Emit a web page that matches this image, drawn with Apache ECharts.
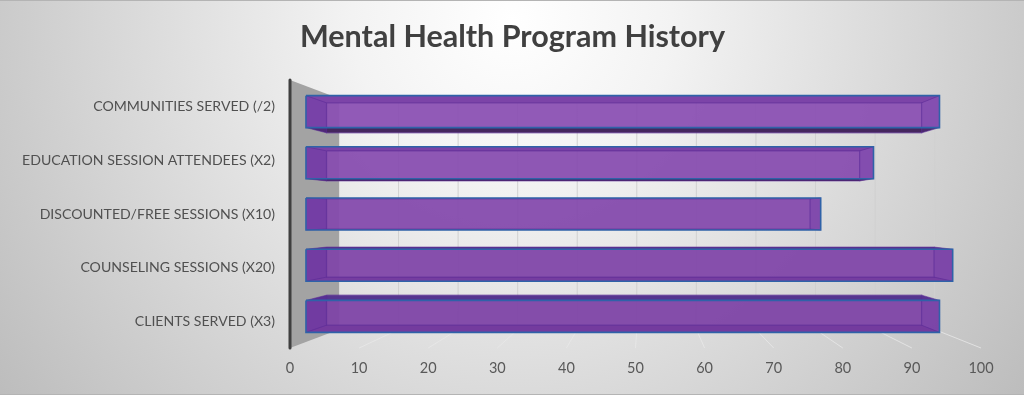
<!DOCTYPE html>
<html><head><meta charset="utf-8">
<style>html,body{margin:0;padding:0;background:#fff}#c{width:1024px;height:395px}</style>
<script src="https://cdn.jsdelivr.net/npm/echarts@6/dist/echarts.min.js"></script>
</head><body><div id="c"></div>
<script>
const categories = ["CLIENTS SERVED (X3)","COUNSELING SESSIONS (X20)","DISCOUNTED/FREE SESSIONS (X10)","EDUCATION SESSION ATTENDEES (X2)","COMMUNITIES SERVED (/2)"];
const values = [96,98,78,86,96];
const ticks = [0,10,20,30,40,50,60,70,80,90,100];

const VP = [645,214], S_FRONT = 0.955, S_BACK = 0.897, S_WALL = 0.862;
const proj = (p,s)=>[VP[0]+(p[0]-VP[0])*s, VP[1]+(p[1]-VP[1])*s];
const chart = echarts.init(document.getElementById('c'));

function axisEnds(api, v){
  const band = api.size([0,1])[1];
  const low = api.coord([v,0]), high = api.coord([v,categories.length-1]);
  return [[low[0],low[1]+band/2],[high[0],high[1]-band/2]];
}
function renderBar(params, api){
  const i = api.value(0), v = api.value(1);
  const a = api.coord([0,i]), b = api.coord([v,i]);
  const h = api.size([0,1])[1]*0.3125;
  const pts = s=>({
    tl:proj([a[0],a[1]-h],s), tr:proj([b[0],a[1]-h],s),
    br:proj([b[0],a[1]+h],s), bl:proj([a[0],a[1]+h],s)});
  const f = pts(S_FRONT), k = pts(S_BACK);
  const poly=(ps,fill)=>({type:'polygon',shape:{points:ps},style:{fill:fill}});
  const line=(ps,stroke,w)=>({type:'polyline',shape:{points:ps},style:{fill:null,stroke:stroke,lineWidth:w}});
  const above = a[1] < VP[1];
  const edge='rgba(88,40,150,0.55)', blue='#2f62a8';
  const t=(a[1]-107)/214;
  const R=Math.round(139-13*t), G=Math.round(81-13*t), B=Math.round(179-13*t);
  const hor = above
    ? poly([f.bl,f.br,k.br,k.bl],'#45265e')
    : poly([f.tl,f.tr,k.tr,k.tl],'#55358f');
  const farHor = above
    ? poly([f.tl,f.tr,k.tr,k.tl],`rgb(${R-16},${G-16},${B-10})`)
    : poly([f.bl,f.br,k.br,k.bl],`rgb(${R-16},${G-16},${B-10})`);
  return {type:'group',children:[
    hor, farHor,
    poly([f.tl,f.tr,f.br,f.bl],`rgba(${R},${G},${B},0.95)`),
    poly([f.tl,k.tl,k.bl,f.bl],'rgba(92,40,155,0.42)'),
    poly([f.tr,k.tr,k.br,f.br],'rgba(100,52,165,0.22)'),
    above ? poly([f.tl,f.tr,k.tr,k.tl],'rgba(90,40,140,0.28)') : poly([f.bl,f.br,k.br,k.bl],'rgba(90,40,140,0.28)'),
    line([k.tl,k.tr,k.br,k.bl,k.tl],edge,1.2),
    line([f.tl,k.tl],edge,1), line([f.tr,k.tr],edge,1),
    line([f.bl,k.bl],edge,1), line([f.br,k.br],edge,1),
    line([f.tl,f.tr,f.br,f.bl,f.tl],blue,1.6)
  ]};
}
function renderWall(params, api){
  const [c0,c1] = axisEnds(api,0);
  return {type:'group',children:[
    {type:'polygon',shape:{points:[c0,proj(c0,S_WALL),proj(c1,S_WALL),c1]},style:{fill:'#a3a3a3'}},
    {type:'line',shape:{x1:c0[0],y1:c0[1],x2:c1[0],y2:c1[1]},style:{stroke:'#3f3f3f',lineWidth:3,lineCap:'round'}}
  ]};
}
function renderGrid(params, api){
  const v = api.value(0);
  const [c0,c1] = axisEnds(api,v);
  const b0=proj(c0,S_WALL), b1=proj(c1,S_WALL);
  const kids=[{type:'line',shape:{x1:b0[0],y1:b0[1],x2:b1[0],y2:b1[1]},style:{stroke:'rgba(208,208,208,0.95)',lineWidth:1}}];
  if(v>0) kids.push({type:'line',shape:{x1:c0[0],y1:c0[1],x2:b0[0],y2:b0[1]},style:{stroke:'rgba(232,232,232,0.8)',lineWidth:1}});
  return {type:'group',children:kids};
}

chart.setOption({
  animation:false,
  backgroundColor:new echarts.graphic.RadialGradient(0.5,0.05,1.62,[
    {offset:0,color:'#ffffff'},{offset:0.25,color:'#f3f3f3'},{offset:1,color:'#bcbcbc'}]),
  textStyle:{fontFamily:'Lato'},
  title:{text:'Mental Health Program History',left:507.5,top:17,textAlign:'center',
    textStyle:{fontFamily:'Lato',fontSize:30.5,fontWeight:'bold',color:'#404040'}},
  grid:{left:290,width:691,top:80,height:268},
  xAxis:{type:'value',min:0,max:100,interval:10,
    axisLine:{show:false},axisTick:{show:false},splitLine:{show:false},
    axisLabel:{color:'#595959',fontSize:14.5,margin:13,fontFamily:'Lato'}},
  yAxis:{type:'category',data:categories,
    axisLine:{show:false},axisTick:{show:false},splitLine:{show:false},
    axisLabel:{color:'#505050',fontSize:14.1,margin:15,fontFamily:'Lato',padding:[6,0,0,0]}},
  graphic:[
    {type:'rect',shape:{x:0,y:0,width:1024,height:1},style:{fill:'#b4b4b4'},silent:true},
    {type:'rect',shape:{x:0,y:394,width:1024,height:1},style:{fill:'#b4b4b4'},silent:true}
  ],
  series:[
    {type:'custom',silent:true,renderItem:renderGrid,clip:false,data:ticks.map(t=>[t]),encode:{x:0},z:1},
    {type:'custom',silent:true,renderItem:renderWall,clip:false,data:[[0]],encode:{x:0},z:2},
    {type:'custom',silent:true,renderItem:renderBar,clip:false,
      data:values.map((v,i)=>[i,v]),encode:{x:1,y:0},z:3}
  ]
});
</script></body></html>
